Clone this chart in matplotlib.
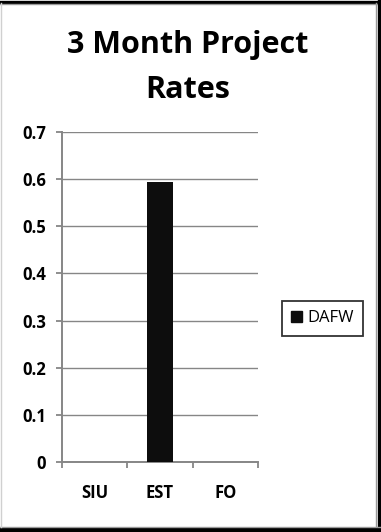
import matplotlib
matplotlib.use("Agg")
import matplotlib.pyplot as plt
from matplotlib.lines import Line2D
from matplotlib.patches import Patch

# Data
categories = ["SIU", "EST", "FO"]
series_name = "DAFW"
values = [0.0, 0.594, 0.0]
y_ticks = [0, 0.1, 0.2, 0.3, 0.4, 0.5, 0.6, 0.7]
y_tick_labels = ["0", "0.1", "0.2", "0.3", "0.4", "0.5", "0.6", "0.7"]
title_lines = ["3 Month Project", "Rates"]

FONT = ["Open Sans", "DejaVu Sans"]
GRAY = "#868686"
BAR = "#0d0d0d"

W, H = 381, 532
fig = plt.figure(figsize=(W / 100, H / 100), dpi=100)
fig.patch.set_facecolor("white")

ax = fig.add_axes([62 / W, 1 - 462 / H, 196 / W, 330 / H])
x = list(range(len(categories)))
ax.bar(x, values, width=0.41, color=BAR, zorder=3, label=series_name)

ax.set_xlim(-0.5, len(categories) - 0.5)
ax.set_ylim(0, 0.7)
ax.set_yticks(y_ticks)
ax.set_yticklabels(y_tick_labels, fontfamily=FONT, fontweight="bold", fontsize=12)
ax.set_xticks(x)
ax.set_xticklabels(categories, fontfamily=FONT, fontweight="bold", fontsize=12)
ax.set_xticks([i - 0.5 for i in range(len(categories) + 1)], minor=True)

ax.tick_params(axis="x", which="major", length=0, pad=15.5)
ax.tick_params(axis="x", which="minor", length=4, width=1.3, color=GRAY, direction="out")
ax.tick_params(axis="y", which="major", length=4, width=1.3, color=GRAY, pad=7.5)

ax.yaxis.grid(True, color=GRAY, linewidth=1.0, zorder=0)
ax.set_axisbelow(True)
for side in ("top", "right"):
    ax.spines[side].set_visible(False)
for side in ("left", "bottom"):
    ax.spines[side].set_color(GRAY)
    ax.spines[side].set_linewidth(1.4)
ax.set_facecolor("white")

for line, base in zip(title_lines, (53.5, 98)):
    fig.text(188 / W, 1 - base / H, line, ha="center", va="baseline",
             fontfamily=FONT, fontweight="bold", fontsize=22)

handle = Patch(facecolor=BAR, edgecolor=BAR)
leg = fig.legend([handle], [series_name], loc="center",
                 bbox_to_anchor=(322.5 / W, 1 - 318.5 / H),
                 prop={"family": FONT, "size": 12},
                 frameon=True, fancybox=False, handlelength=0.65, handleheight=0.65,
                 handletextpad=0.35, borderpad=0.55, borderaxespad=0)
leg.get_frame().set_edgecolor("black")
leg.get_frame().set_linewidth(1.3)

# Outer frame of the chart
def fline(xs, ys, color, lw):
    fig.add_artist(Line2D([v / W for v in xs], [1 - v / H for v in ys],
                          color=color, linewidth=lw, transform=fig.transFigure))

fline([0, W], [1.5, 1.5], "black", 2.4)
fline([0, W], [3.5, 3.5], "#9a9a9a", 1.0)
fline([W - 2, W - 2], [0, H], "black", 2.4)
fline([W - 5, W - 5], [3, H - 5], "#9a9a9a", 1.0)
fline([0, W], [H - 2, H - 2], "black", 3.0)
fline([0, W], [H - 5, H - 5], "#9a9a9a", 1.0)
fline([0.5, 0.5], [3, H - 5], "#d0d0d0", 1.0)

fig.savefig("out.png", dpi=100, facecolor="white")
